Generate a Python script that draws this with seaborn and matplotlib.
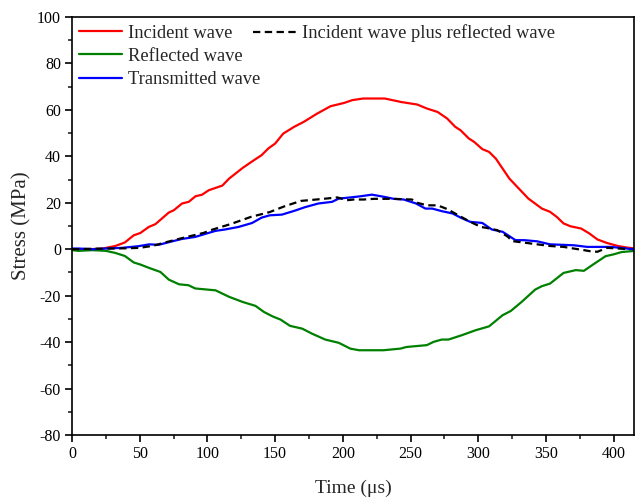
import numpy as np
import pandas as pd
import matplotlib
matplotlib.use("Agg")
import matplotlib.pyplot as plt
import seaborn as sns
from matplotlib.lines import Line2D

# ---- data ----
t_inc = [0, 10, 22, 32, 39, 45.6, 50.5, 56.7, 61.6, 71.5, 75.2, 81.3, 86.2, 91.2, 96.1, 101, 111, 116, 126, 134,
         140, 145, 150, 156, 164, 171, 181, 191, 201, 207, 215, 231, 243, 255, 262, 270, 277, 283, 287, 293,
         297, 303, 308, 313, 318, 323, 330, 337, 347, 353, 358, 363, 368, 376, 382, 388, 395, 403, 410, 416]
v_inc = [0, 0, 0.2, 1.4, 2.9, 6.0, 7.0, 9.6, 10.8, 15.8, 16.8, 19.7, 20.4, 22.8, 23.5, 25.4, 27.4, 30.4, 35, 38.2,
         40.5, 43.4, 45.5, 49.8, 52.7, 54.8, 58.4, 61.6, 63, 64.2, 64.9, 64.9, 63.4, 62.3, 60.6, 59.1, 56.3, 52.7, 51.2, 47.7,
         46.2, 43.1, 41.9, 39, 34.7, 30.4, 26.1, 21.8, 17.5, 16.1, 13.9, 11.1, 9.9, 8.9, 6.8, 4.2, 2.7, 1.4, 0.7, 0.3]

t_ref = [0, 5, 15, 25, 32, 39, 45.6, 50.5, 56.7, 65.3, 71.5, 79, 86, 91, 106, 116, 126, 135.5, 141.7, 148,
         154, 161, 170, 177, 187, 197, 205.5, 212, 230, 242.5, 247, 262, 267, 273, 278, 288, 298, 308, 318, 324,
         332, 342, 347, 353, 363, 372, 378, 385, 394, 400, 406, 416]
v_ref = [-0.4, -0.7, -0.4, -0.7, -1.6, -2.9, -5.7, -6.6, -8, -9.8, -13.1, -15.1, -15.5, -16.9, -17.7, -20.5, -22.7, -24.4, -27, -28.9,
         -30.3, -33, -34.2, -36.3, -38.9, -40.3, -42.8, -43.5, -43.5, -42.8, -42.1, -41.3, -39.9, -38.9, -38.9, -37, -34.9, -33.2, -28.4, -26.6,
         -22.7, -17.4, -15.9, -14.8, -10.2, -9, -9.3, -6.5, -3, -2.2, -1.2, -0.7]

t_tra = [0, 5, 15, 25, 37, 49, 57, 64, 74, 81, 91, 99, 106, 113, 123, 133, 140, 146, 155, 164,
         172, 182, 192, 197, 205.5, 213, 221.5, 231, 237.5, 245, 254, 261, 266, 273, 281, 287, 294, 303, 310, 318,
         327.5, 334, 343.5, 353, 370.6, 380.5, 398, 416]
v_tra = [0.3, 0.3, 0, 0.3, 0.6, 1.3, 2.1, 1.9, 3.4, 4.4, 5.3, 6.7, 7.9, 8.5, 9.6, 11.3, 13.6, 14.6, 14.9, 16.5,
         18.1, 19.7, 20.4, 21.8, 22.3, 22.8, 23.5, 22.5, 21.7, 21.4, 19.7, 17.5, 17.5, 16.4, 15.4, 13.6, 11.8, 11.3, 8.5, 7.5,
         3.9, 3.9, 3.4, 2.1, 1.7, 1.0, 1.0, -0.1]

t_sum = [0, 15, 30, 40, 50, 60, 70, 80, 97, 104, 117, 132, 146, 157, 169, 184, 196, 203, 208, 215,
         223, 237, 251, 255, 262, 270, 277, 294, 302, 306, 314, 318, 322, 325, 337, 353, 363, 378, 383, 388, 395, 412]
v_sum = [0, 0.2, 0.3, 0.4, 0.6, 1.5, 3.1, 4.6, 7.0, 8.5, 10.8, 13.9, 16.0, 18.5, 20.8, 21.6, 22.3, 21.1, 21.4, 21.4,
         21.7, 21.7, 21.4, 20.0, 18.9, 18.9, 17.3, 11.8, 9.6, 9.2, 8.2, 6.8, 5.3, 3.5, 2.6, 1.4, 1.0, -0.4, -0.9, -1.1, 0.6, 0]

labels = ["Incident wave", "Reflected wave", "Transmitted wave", "Incident wave plus reflected wave"]
x_label = "Time (\u03bcs)"
y_label = "Stress (MPa)"

# ---- style ----
sns.set_style("ticks")
plt.rcParams['font.family'] = ['Liberation Serif', 'DejaVu Serif']
plt.rcParams['axes.unicode_minus'] = False

fig = plt.figure(figsize=(6.35, 5.01), dpi=100)
ax = fig.add_axes([72/635, 1-435/501, (634-72)/635, (435-17)/501])

lw = 1.6
sns.lineplot(x=t_inc, y=v_inc, ax=ax, color="#FF0000", lw=lw, sort=False)
sns.lineplot(x=t_ref, y=v_ref, ax=ax, color="#008000", lw=lw, sort=False)
sns.lineplot(x=t_tra, y=v_tra, ax=ax, color="#0000FF", lw=lw, sort=False)
sns.lineplot(x=t_sum, y=v_sum, ax=ax, color="black", lw=lw, sort=False)
ax.lines[-1].set_dashes((3.3, 2))

ax.set_xlim(0, 415)
ax.set_ylim(-80, 100)
ax.set_xticks(np.arange(0, 401, 50))
ax.set_xticks(np.arange(25, 415, 50), minor=True)
ax.set_yticks(np.arange(-80, 101, 20))
ax.set_yticks(np.arange(-70, 100, 20), minor=True)
ax.tick_params(axis='both', which='major', direction='out', length=5, width=1.2, labelsize=11.5, pad=3,
               top=False, right=False, colors='black')
ax.tick_params(axis='both', which='minor', direction='out', length=3, width=1.2, top=False, right=False)
for s in ax.spines.values():
    s.set_linewidth(1.2)
    s.set_color('black')
    s.set_visible(True)
ax.set_xlabel(x_label, fontsize=14, labelpad=13)
ax.set_ylabel(y_label, fontsize=15, labelpad=4)

h_inc = Line2D([], [], color="#FF0000", lw=lw)
h_ref = Line2D([], [], color="#008000", lw=lw)
h_tra = Line2D([], [], color="#0000FF", lw=lw)
h_sum = Line2D([], [], color="black", lw=lw, dashes=(3.3, 2))

common = dict(frameon=False, fontsize=13.3, borderpad=0, borderaxespad=0, handlelength=2.35,
              handletextpad=0.3, labelspacing=0.34)
leg1 = ax.legend([h_inc, h_ref, h_tra], labels[:3], loc='upper left', bbox_to_anchor=(0.0125, 0.982), **common)
ax.add_artist(leg1)
ax.legend([h_sum], labels[3:], loc='upper left', bbox_to_anchor=(0.322, 0.982), **common)

fig.savefig("out.png", dpi=100)
